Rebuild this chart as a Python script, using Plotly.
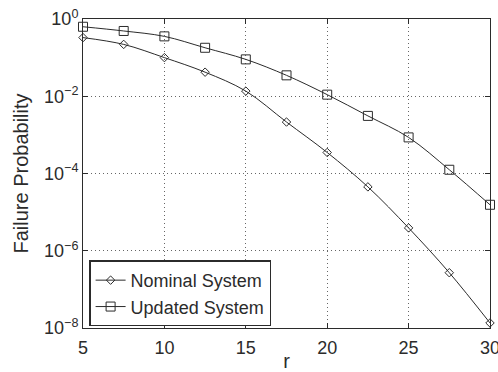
import plotly.graph_objects as go

r_values = [5, 7.5, 10, 12.5, 15, 17.5, 20, 22.5, 25, 27.5, 30]
nominal_pf = [0.33, 0.22, 0.10, 0.042, 0.0136, 2.15e-3, 3.5e-4, 4.5e-5, 3.9e-6, 2.7e-7, 1.35e-8]
updated_pf = [0.63, 0.49, 0.355, 0.18, 0.090, 0.0348, 0.011, 3.1e-3, 8.6e-4, 1.25e-4, 1.55e-5]

x_ticks = [5, 10, 15, 20, 25, 30]
y_ticks = [1e0, 1e-2, 1e-4, 1e-6, 1e-8]
y_tick_text = ["10<sup>0</sup>", "10<sup>−2</sup>", "10<sup>−4</sup>", "10<sup>−6</sup>", "10<sup>−8</sup>"]

ink = "#2b2b2b"
font_family = "Liberation Sans, Arial, sans-serif"

fig = go.Figure()
fig.add_trace(go.Scatter(
    x=r_values, y=nominal_pf, name="Nominal System",
    mode="lines+markers", line=dict(color=ink, width=1, shape="spline"),
    marker=dict(symbol="diamond-open", size=6.5, color=ink, line=dict(width=1)),
    cliponaxis=False,
))
fig.add_trace(go.Scatter(
    x=r_values, y=updated_pf, name="Updated System",
    mode="lines+markers", line=dict(color=ink, width=1, shape="spline"),
    marker=dict(symbol="square-open", size=9, color=ink, line=dict(width=1)),
    cliponaxis=False,
))

axis_common = dict(
    showline=True, linecolor=ink, linewidth=1, mirror="ticks",
    ticks="inside", ticklen=5, tickcolor=ink,
    showgrid=True, gridcolor="#666666", gridwidth=1, griddash="1px,3px",
    zeroline=False, tickfont=dict(size=18, color=ink, family=font_family),
    ticklabeloverflow="allow", automargin=False,
)

fig.update_layout(
    width=498, height=372,
    margin=dict(l=83, r=8, t=19, b=44),
    paper_bgcolor="white", plot_bgcolor="white",
    font=dict(family=font_family, color=ink),
    xaxis=dict(range=[5, 30], tickvals=x_ticks, ticklabelstandoff=3,
               title=dict(text="r", font=dict(size=20), standoff=4),
               **axis_common),
    yaxis=dict(type="log", range=[-8, 0], tickvals=y_ticks, ticktext=y_tick_text,
               title=dict(text="Failure Probability", font=dict(size=20), standoff=10),
               **axis_common),
    legend=dict(x=0.015, y=0.005, xanchor="left", yanchor="bottom",
                bgcolor="white", bordercolor=ink, borderwidth=1.5,
                font=dict(size=18, color=ink), tracegroupgap=0),
    showlegend=True,
)

fig.write_html("out.html")
